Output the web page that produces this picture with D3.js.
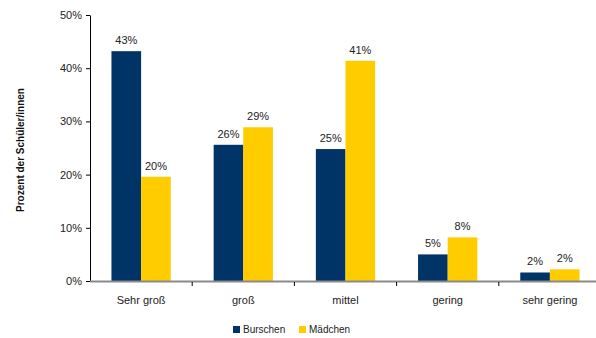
<!DOCTYPE html>
<html>
<head>
<meta charset="utf-8">
<script src="https://cdn.jsdelivr.net/npm/d3@7"></script>
<style>
  html, body { margin: 0; padding: 0; background: #fff; }
  svg { display: block; font-family: "Liberation Sans", Arial, sans-serif; }
</style>
</head>
<body>
<svg id="chart" width="596" height="338"></svg>
<script>
// Categories and series (share of students, percent)
const categories = ["Sehr groß", "groß", "mittel", "gering", "sehr gering"];
const seriesNames = ["Burschen", "Mädchen"];
const burschen = [43.2, 25.6, 24.8, 5.0, 1.6];
const maedchen = [19.6, 28.9, 41.4, 8.2, 2.2];
const yTicks = [0, 10, 20, 30, 40, 50];
const colors = ["#003366", "#FFCC00"];

const series = [burschen, maedchen];
const svg = d3.select("#chart");

const plotLeft = 90, plotRight = 601, plotTop = 15, plotBottom = 281;

const x0 = d3.scaleBand()
  .domain(categories)
  .range([plotLeft, plotRight])
  .paddingInner(0.42)
  .paddingOuter(0.21);

const x1 = d3.scaleBand()
  .domain(seriesNames)
  .range([0, x0.bandwidth()]);

const y = d3.scaleLinear().domain([0, 50]).range([plotBottom, plotTop]);

// y axis
const yAxis = svg.append("g")
  .attr("transform", `translate(${plotLeft},0)`)
  .call(d3.axisLeft(y).tickValues(yTicks).tickFormat(d => d + "%").tickSize(4).tickSizeOuter(0));
yAxis.select(".domain").attr("stroke", "#000").attr("stroke-width", 1);
yAxis.selectAll(".tick line").attr("stroke", "#000");
yAxis.selectAll(".tick text")
  .attr("x", -8)
  .attr("fill", "#222")
  .style("font-size", "11px")
  .style("font-family", "Liberation Sans, Arial, sans-serif");

// axis title
svg.append("text")
  .attr("transform", `translate(24,${(plotTop + plotBottom) / 2 + 2}) rotate(-90)`)
  .attr("text-anchor", "middle")
  .attr("fill", "#111")
  .style("font-size", "10px")
  .style("font-weight", "bold")
  .text("Prozent der Schüler/innen");

// bars
const groups = svg.append("g").selectAll("g")
  .data(categories)
  .join("g")
  .attr("transform", d => `translate(${x0(d)},0)`);

groups.selectAll("rect")
  .data((d, i) => seriesNames.map((s, k) => ({ s, v: series[k][i], k })))
  .join("rect")
  .attr("x", d => x1(d.s))
  .attr("y", d => y(d.v))
  .attr("width", x1.bandwidth())
  .attr("height", d => y(0) - y(d.v))
  .attr("fill", d => colors[d.k]);

groups.selectAll("text.val")
  .data((d, i) => seriesNames.map((s, k) => ({ s, v: series[k][i], k })))
  .join("text")
  .attr("class", "val")
  .attr("x", d => x1(d.s) + x1.bandwidth() / 2)
  .attr("y", d => y(d.v) - 7)
  .attr("text-anchor", "middle")
  .attr("fill", "#222")
  .style("font-size", "11px")
  .text(d => Math.round(d.v) + "%");

// x axis baseline and category ticks
svg.append("line")
  .attr("x1", plotLeft).attr("x2", 596)
  .attr("y1", y(0) + 0.5).attr("y2", y(0) + 0.5)
  .attr("stroke", "#8a8a8a").attr("stroke-width", 2);

const step = x0.step();
svg.append("g").selectAll("line")
  .data(categories.slice(1))
  .join("line")
  .attr("x1", d => x0(d) - step * x0.paddingInner() / 2)
  .attr("x2", d => x0(d) - step * x0.paddingInner() / 2)
  .attr("y1", y(0) + 1).attr("y2", y(0) + 5)
  .attr("stroke", "#000");

svg.append("g").selectAll("text")
  .data(categories)
  .join("text")
  .attr("x", d => x0(d) + x0.bandwidth() / 2)
  .attr("y", 304)
  .attr("text-anchor", "middle")
  .attr("fill", "#222")
  .style("font-size", "11px")
  .text(d => d);

// legend
const legend = svg.append("g").attr("transform", "translate(233,326)");
const legX = [0, 66];
seriesNames.forEach((name, k) => {
  const g = legend.append("g").attr("transform", `translate(${legX[k]},0)`);
  g.append("rect").attr("width", 7).attr("height", 7).attr("fill", colors[k]);
  g.append("text").attr("x", 10).attr("y", 7).attr("fill", "#222")
    .style("font-size", "10px").text(name);
});
</script>
</body>
</html>
